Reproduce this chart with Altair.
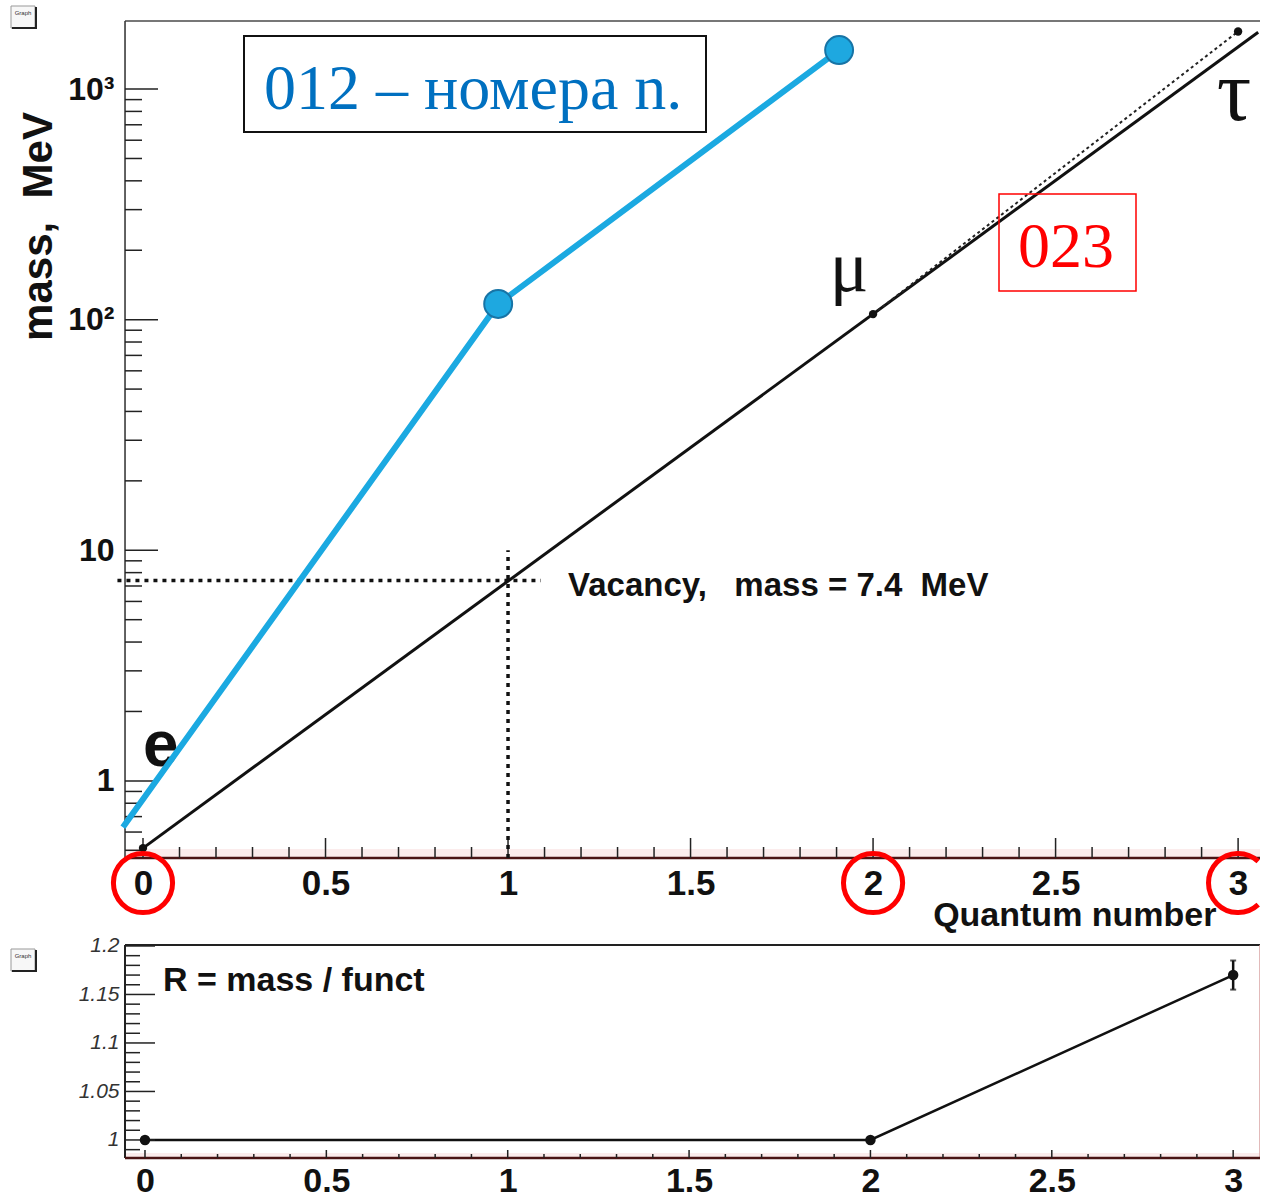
import altair as alt
import pandas as pd

# ---------------- data ----------------
# charged leptons: quantum number vs mass (MeV)
lepton_n = [0, 2, 3]
lepton_mass = [0.511, 105.7, 1777.0]
lepton_symbol = ["e", "μ", "τ"]

# exponential fit through e and mu (a straight line on the log axis)
fit_n = [0, 3.055]
fit_mass = [0.511, 1763.0]

# extrapolation mu -> tau
ext_n = [2, 3]
ext_mass = [105.7, 1777.0]

# predicted vacancy at n = 1
vacancy_n = 1
vacancy_mass = 7.4
vacancy_h_span = [-0.07, 1.09]
vacancy_v_span = [0.463, 10.0]

# numbered sequence (blue)
seq_n = [-0.055, 0.973, 1.907]
seq_mass = [0.63, 117.0, 1476.0]
seq_marked = [False, True, True]

# highlighted quantum numbers
circled_full = [0, 2]
circled_edge = [3]

# ratio R = mass / funct
ratio_n = [0, 2, 3]
ratio_r = [1.0, 1.0, 1.170]
ratio_err = [0.0, 0.0, 0.015]

# tick positions
x_major = [0, 0.5, 1, 1.5, 2, 2.5, 3]
x_minor = [round(0.1 * i, 1) for i in range(31) if i % 5]
y_major = [1, 10, 100, 1000]
y_minor = [0.5, 0.6, 0.7, 0.8, 0.9, 2, 3, 4, 5, 6, 7, 8, 9,
           20, 30, 40, 50, 60, 70, 80, 90, 200, 300, 400, 500, 600, 700, 800, 900]
r_major = [1.0, 1.05, 1.1, 1.15, 1.2]
r_minor = [round(0.98 + 0.01 * i, 2) for i in range(1, 22) if (i + 98) % 5]

# ---------------- layout ----------------
W1, H1 = 1135, 837
W2, H2 = 1135, 213
SANS = "Liberation Sans"
SERIF = "Liberation Serif"
NB = "\u00a0"
one_row = alt.Data(values=[{"k": 0}])
# open ring (unit-square symbol path) for the label cut by the right edge
OPEN_RING = "M 0.68 -0.733 A 1 1 0 1 0 0.68 0.733"

xs1 = alt.Scale(domain=[-0.0493, 3.060], nice=False, zero=False)
ys1 = alt.Scale(type="log", domain=[0.463, 1973], nice=False)
xs2 = alt.Scale(domain=[-0.0551, 3.074], nice=False, zero=False)
ys2 = alt.Scale(domain=[0.9814, 1.201], nice=False, zero=False)

x_axis1 = alt.Axis(values=x_major, format="~g", ticks=False, domain=False, grid=False,
                   labelFontSize=35, labelFontWeight="bold", labelColor="#111",
                   labelPadding=8, labelFlush=False, labelOverlap=False, labelFont=SANS,
                   title="Quantum number", titleFont=SANS, titleFontSize=34,
                   titleFontWeight="bold", titleColor="#111", titleAlign="right",
                   titleX=1091, titleY=67, titleBaseline="alphabetic")
y_axis1 = alt.Axis(values=y_major, format="~g",
                   labelExpr="datum.value >= 999 ? '10³' : datum.value >= 99 ? '10²' : datum.label",
                   ticks=False, domain=False, grid=False, labelFont=SANS,
                   labelFontSize=32, labelFontWeight="bold", labelColor="#111",
                   labelPadding=11, labelOverlap=False,
                   title="mass," + NB + NB + "MeV", titleFont=SANS, titleFontSize=42,
                   titleFontWeight="bold", titleColor="#111", titleAngle=270,
                   titleX=-74, titleY=205, titleBaseline="alphabetic", titleAlign="center")

x_axis2 = alt.Axis(values=x_major, format="~g", ticks=False, domain=False, grid=False,
                   labelFontSize=34, labelFontWeight="bold", labelColor="#111",
                   labelPadding=6, labelFlush=False, labelOverlap=False, labelFont=SANS,
                   title=None)
y_axis2 = alt.Axis(values=r_major, format="~g", ticks=False, domain=False, grid=False,
                   labelFontSize=21, labelFontStyle="italic", labelColor="#333",
                   labelPadding=6, labelOverlap=False, labelFont=SANS, title=None)


# every layer carries the same scale and axis definition so they merge cleanly
def X1(field):
    return alt.X(field, type="quantitative", scale=xs1, axis=x_axis1)


def Y1(field):
    return alt.Y(field, type="quantitative", scale=ys1, axis=y_axis1)


def X2(field):
    return alt.X(field, type="quantitative", scale=xs2, axis=x_axis2)


def Y2(field):
    return alt.Y(field, type="quantitative", scale=ys2, axis=y_axis2)


# ---------------- upper panel ----------------
leptons = pd.DataFrame({"n": lepton_n, "mass": lepton_mass, "sym": lepton_symbol})
fit = pd.DataFrame({"n": fit_n, "mass": fit_mass})
ext = pd.DataFrame({"n": ext_n, "mass": ext_mass})
seq = pd.DataFrame({"n": seq_n, "mass": seq_mass, "marked": seq_marked})
vac = pd.DataFrame({"n": [vacancy_n], "mass": [vacancy_mass],
                    "n0": [vacancy_h_span[0]], "n1": [vacancy_h_span[1]],
                    "m0": [vacancy_v_span[0]], "m1": [vacancy_v_span[1]]})

fit_line = alt.Chart(fit).mark_line(color="#111", strokeWidth=3).encode(
    x=X1("n"), y=Y1("mass"))
ext_line = alt.Chart(ext).mark_line(color="#222", strokeWidth=2, strokeDash=[3, 3]).encode(
    x=X1("n"), y=Y1("mass"))
vac_h = alt.Chart(vac).mark_rule(color="#111", strokeWidth=3.5, strokeDash=[4, 5]).encode(
    x=X1("n0"), x2="n1", y=Y1("mass"))
vac_v = alt.Chart(vac).mark_rule(color="#111", strokeWidth=3.5, strokeDash=[4, 5]).encode(
    x=X1("n"), y=Y1("m0"), y2="m1")
vac_text = alt.Chart(vac).mark_text(
    text="Vacancy," + NB * 3 + "mass = 7.4" + NB * 2 + "MeV", font=SANS, fontSize=33,
    fontWeight="bold", color="#111", align="left", baseline="alphabetic", dx=60, dy=16).encode(
    x=X1("n"), y=Y1("mass"))
lep_pts = alt.Chart(leptons).mark_circle(color="#111", size=70, opacity=1).encode(
    x=X1("n"), y=Y1("mass"))

lab_e = alt.Chart(leptons).transform_filter("datum.sym == 'e'").mark_text(
    font=SANS, fontSize=64, fontWeight="bold", color="#111", align="left",
    baseline="alphabetic", dx=0, dy=-82).encode(x=X1("n"), y=Y1("mass"), text="sym:N")
lab_mu = alt.Chart(leptons).transform_filter("datum.sym == 'μ'").mark_text(
    font=SERIF, fontSize=72, color="#111", align="center",
    baseline="alphabetic", dx=-24, dy=-23).encode(x=X1("n"), y=Y1("mass"), text="sym:N")
lab_tau = alt.Chart(leptons).transform_filter("datum.sym == 'τ'").mark_text(
    font=SERIF, fontSize=86, color="#111", align="center",
    baseline="alphabetic", dx=-4, dy=89).encode(x=X1("n"), y=Y1("mass"), text="sym:N")

seq_line = alt.Chart(seq).mark_line(color="#1BA9E1", strokeWidth=6).encode(
    x=X1("n"), y=Y1("mass"))
seq_pts = alt.Chart(seq).transform_filter("datum.marked").mark_point(
    shape="circle", filled=True, size=780, fill="#1EA8E0", stroke="#1774A6",
    strokeWidth=2, opacity=1).encode(x=X1("n"), y=Y1("mass"))

ytick_major1 = alt.Chart(pd.DataFrame({"v": y_major})).mark_rule(color="#222", strokeWidth=1.5).encode(
    y=Y1("v"), x=alt.value(0), x2=alt.value(33))
ytick_minor1 = alt.Chart(pd.DataFrame({"v": y_minor})).mark_rule(color="#222", strokeWidth=1.5).encode(
    y=Y1("v"), x=alt.value(0), x2=alt.value(17))
xtick_major1 = alt.Chart(pd.DataFrame({"v": x_major})).mark_rule(color="#222", strokeWidth=1.5).encode(
    x=X1("v"), y=alt.value(H1 - 20), y2=alt.value(H1))
xtick_minor1 = alt.Chart(pd.DataFrame({"v": x_minor})).mark_rule(color="#222", strokeWidth=1.5).encode(
    x=X1("v"), y=alt.value(H1 - 11), y2=alt.value(H1))

frame1 = [
    alt.Chart(one_row).mark_rect(color="#fbecec").encode(
        x=alt.value(0), x2=alt.value(W1), y=alt.value(H1 - 9), y2=alt.value(H1)),
    alt.Chart(one_row).mark_rule(color="#777", strokeWidth=2).encode(
        x=alt.value(0), x2=alt.value(W1), y=alt.value(0)),
    alt.Chart(one_row).mark_rule(color="#333", strokeWidth=1.5).encode(
        x=alt.value(0), y=alt.value(0), y2=alt.value(H1)),
    alt.Chart(one_row).mark_rule(color="#4a1414", strokeWidth=2.5).encode(
        x=alt.value(0), x2=alt.value(W1), y=alt.value(H1)),
]

# red rings round the tick labels; the last one runs off the right edge
rings = alt.Chart(pd.DataFrame({"n": circled_full})).mark_point(
    shape="circle", filled=False, size=3500, color="#ff0000", strokeWidth=5, opacity=1).encode(
    x=X1("n"), y=alt.value(862))
ring_edge = alt.Chart(pd.DataFrame({"n": circled_edge})).mark_point(
    shape=OPEN_RING, filled=False, size=3500, color="#ff0000", strokeWidth=5, opacity=1).encode(
    x=X1("n"), y=alt.value(862))

box_blue = [
    alt.Chart(one_row).mark_rect(fillOpacity=0, stroke="#111", strokeWidth=2).encode(
        x=alt.value(119), x2=alt.value(581), y=alt.value(15), y2=alt.value(111)),
    alt.Chart(one_row).mark_text(text="012 – номера n.", font=SERIF, fontSize=64,
                                 color="#0070C0", align="left", baseline="alphabetic").encode(
        x=alt.value(139), y=alt.value(88)),
]
box_red = [
    alt.Chart(one_row).mark_rect(fillOpacity=0, stroke="#ff0000", strokeWidth=1.5).encode(
        x=alt.value(874), x2=alt.value(1011), y=alt.value(173), y2=alt.value(270)),
    alt.Chart(one_row).mark_text(text="023", font=SERIF, fontSize=64,
                                 color="#ff0000", align="center", baseline="alphabetic").encode(
        x=alt.value(941), y=alt.value(246)),
]


def graph_icon(top):
    return [
        alt.Chart(one_row).mark_rect(fill="#f7f7f7", stroke="#999", strokeWidth=1).encode(
            x=alt.value(-114), x2=alt.value(-90), y=alt.value(top), y2=alt.value(top + 22)),
        alt.Chart(one_row).mark_rule(color="#222", strokeWidth=2).encode(
            x=alt.value(-113), x2=alt.value(-89), y=alt.value(top + 22)),
        alt.Chart(one_row).mark_rule(color="#222", strokeWidth=2).encode(
            x=alt.value(-89), y=alt.value(top + 1), y2=alt.value(top + 23)),
        alt.Chart(one_row).mark_text(text="Graph", font=SANS, fontSize=6, color="#333",
                                     align="center", baseline="middle").encode(
            x=alt.value(-102), y=alt.value(top + 7)),
    ]


upper = alt.layer(
    fit_line, *frame1, ytick_minor1, ytick_major1, xtick_minor1, xtick_major1,
    ext_line, vac_h, vac_v, vac_text, lep_pts, lab_e, lab_mu, lab_tau,
    seq_line, seq_pts, rings, ring_edge, *box_blue, *box_red, *graph_icon(-15)
).properties(width=W1, height=H1)

# ---------------- lower panel ----------------
ratio = pd.DataFrame({"n": ratio_n, "r": ratio_r, "err": ratio_err})

r_line = alt.Chart(ratio).mark_line(color="#111", strokeWidth=2.5).encode(
    x=X2("n"), y=Y2("r"))
r_pts = alt.Chart(ratio).mark_circle(color="#111", size=110, opacity=1).encode(
    x=X2("n"), y=Y2("r"))
r_err = alt.Chart(ratio).transform_filter("datum.err > 0").transform_calculate(
    lo="datum.r - datum.err", hi="datum.r + datum.err").mark_rule(
    color="#111", strokeWidth=2.5).encode(x=X2("n"), y=Y2("lo:Q"), y2="hi:Q")
r_caps = alt.Chart(ratio).transform_filter("datum.err > 0").transform_calculate(
    lo="datum.r - datum.err", hi="datum.r + datum.err").transform_fold(
    ["lo", "hi"], as_=["end", "v"]).mark_tick(
    orient="horizontal", color="#111", size=6, thickness=2).encode(x=X2("n"), y=Y2("v:Q"))

ytick_major2 = alt.Chart(pd.DataFrame({"v": r_major})).mark_rule(color="#222", strokeWidth=1.5).encode(
    y=Y2("v"), x=alt.value(0), x2=alt.value(30))
ytick_minor2 = alt.Chart(pd.DataFrame({"v": r_minor})).mark_rule(color="#222", strokeWidth=1.5).encode(
    y=Y2("v"), x=alt.value(0), x2=alt.value(15))
xtick_major2 = alt.Chart(pd.DataFrame({"v": x_major})).mark_rule(color="#222", strokeWidth=1.5).encode(
    x=X2("v"), y=alt.value(H2 - 8), y2=alt.value(H2))
xtick_minor2 = alt.Chart(pd.DataFrame({"v": x_minor})).mark_rule(color="#222", strokeWidth=1.5).encode(
    x=X2("v"), y=alt.value(H2 - 4), y2=alt.value(H2))

frame2 = [
    alt.Chart(one_row).mark_rect(color="#fbecec").encode(
        x=alt.value(0), x2=alt.value(W2), y=alt.value(H2 - 5), y2=alt.value(H2)),
    alt.Chart(one_row).mark_rule(color="#222", strokeWidth=2).encode(
        x=alt.value(0), x2=alt.value(W2), y=alt.value(0)),
    alt.Chart(one_row).mark_rule(color="#222", strokeWidth=2).encode(
        x=alt.value(0), y=alt.value(0), y2=alt.value(H2)),
    alt.Chart(one_row).mark_rule(color="#d9a3a3", strokeWidth=1.5).encode(
        x=alt.value(W2), y=alt.value(0), y2=alt.value(H2)),
    alt.Chart(one_row).mark_rule(color="#4a1414", strokeWidth=2.5).encode(
        x=alt.value(0), x2=alt.value(W2), y=alt.value(H2)),
]

r_title = alt.Chart(one_row).mark_text(
    text="R = mass / funct", font=SANS, fontSize=34, fontWeight="bold", color="#111",
    align="left", baseline="alphabetic").encode(x=alt.value(38), y=alt.value(46))

lower = alt.layer(
    r_line, *frame2, ytick_minor2, ytick_major2, xtick_minor2, xtick_major2,
    r_err, r_caps, r_pts, r_title, *graph_icon(4)
).properties(width=W2, height=H2)

chart = alt.vconcat(upper, lower, spacing=87, bounds="flush").properties(
    padding={"left": 10, "top": 5, "right": -9, "bottom": 0}
).configure_view(stroke=None).configure(font=SANS, background="white")

chart.save("out.html", embed_options={"renderer": "svg", "actions": False})
